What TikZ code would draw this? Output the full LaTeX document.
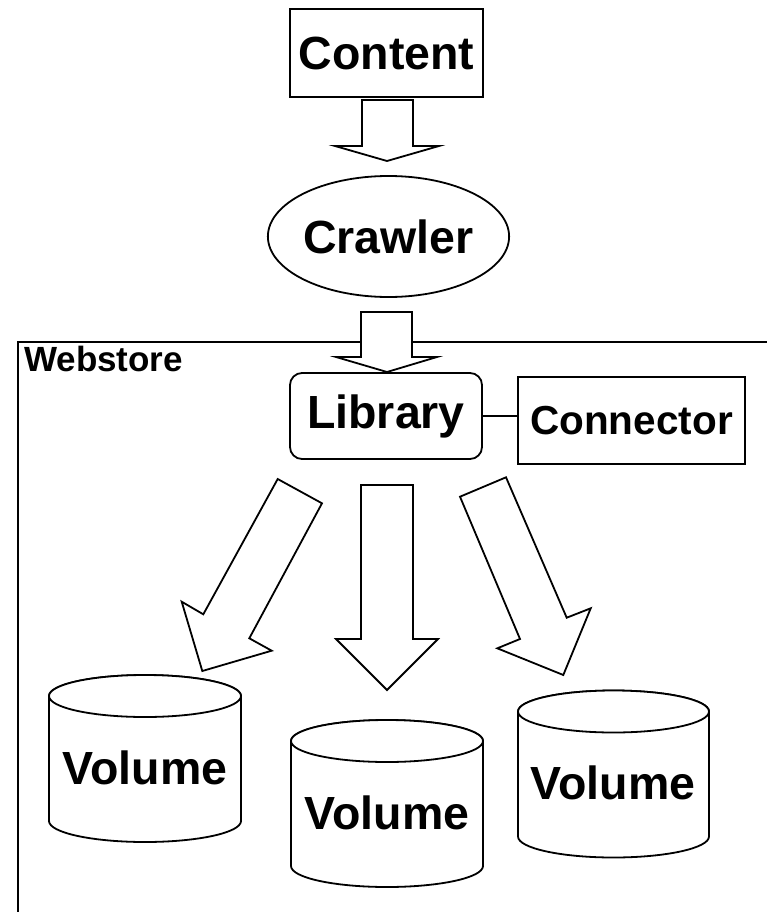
\documentclass[tikz,border=0pt]{standalone}
\usepackage{fontspec}
\setmainfont{Liberation Sans}
\usetikzlibrary{shapes.geometric}
\tikzset{
  lw/.style={line width=1.8pt},
  box/.style={draw, lw, fill=white, inner sep=0pt, font=\bfseries\fontsize{46.5}{56}\selectfont},
  blockarrow/.style={draw, lw, fill=white, line join=miter},
  vol/.style={draw, lw, fill=white},
  lbl/.style={font=\bfseries\fontsize{46.5}{56}\selectfont, inner sep=0pt},
}
\newcommand\drawvol[4]{%
  \draw[vol] ({#1-#4},#2) -- ({#1-#4},#3)
     arc[start angle=180, end angle=0, x radius=#4, y radius=21]
     -- ({#1+#4},#2)
     arc[start angle=0, end angle=-180, x radius=#4, y radius=21] -- cycle;
  \draw[vol] (#1,#2) ellipse[x radius=#4, y radius=21];}
\begin{document}
\begin{tikzpicture}[x=1pt,y=-1pt]
\useasboundingbox (0,0) rectangle (767,912);
\clip (0,0) rectangle (767,912);
% Webstore frame
\draw[lw] (18,342) rectangle (800,960);
\node[anchor=base west, inner sep=0pt, font=\bfseries\fontsize{35}{42}\selectfont] (webstore) at (24,371) {Webstore};
% Content and crawler
\node[box, minimum width=193pt, minimum height=88pt] (content) at (386.5,53) {Content};
\node[box, ellipse, minimum width=227pt, minimum height=121pt] (crawler) at (388.5,236.5) {Crawler};
% block arrows top
\draw[blockarrow] (362,100) -- (413,100) -- (413,146) -- (439,146) -- (387,161) -- (335,146) -- (362,146) -- cycle;
\draw[blockarrow] (361,312) -- (412,312) -- (412,357) -- (437,357) -- (387,372) -- (336,357) -- (361,357) -- cycle;
% Library and connector
\node[box, rounded corners=12pt, minimum width=192pt, minimum height=86pt] (library) at (386,416) {Library};
\node[box, minimum width=227pt, minimum height=87pt, font=\bfseries\fontsize{40.5}{48}\selectfont] (connector) at (631.5,420.5) {Connector};
\draw[lw] (library.east) -- (library.east -| connector.west);
% lower block arrows
\draw[blockarrow] (277.7,479) -- (322,503.3) -- (249.3,638.3) -- (271.7,650.7) -- (202.3,671) -- (181.7,601.7) -- (203.3,614.3) -- cycle;
\draw[blockarrow] (361,485) -- (413,485) -- (413,639) -- (438,639) -- (387,690) -- (336,639) -- (361,639) -- cycle;
\draw[blockarrow] (460,496.7) -- (506,477.3) -- (566.7,617.7) -- (590.7,608.3) -- (563.3,675) -- (497.3,648.3) -- (520,639) -- cycle;
% volumes
\drawvol{145}{696}{821}{96}
\drawvol{387}{741}{866}{96}
\drawvol{613.5}{711.5}{836.5}{95.5}
\node[lbl] (vol1) at (145,768) {Volume};
\node[lbl] (vol2) at (387,813) {Volume};
\node[lbl] (vol3) at (613,783) {Volume};
\end{tikzpicture}
\end{document}
